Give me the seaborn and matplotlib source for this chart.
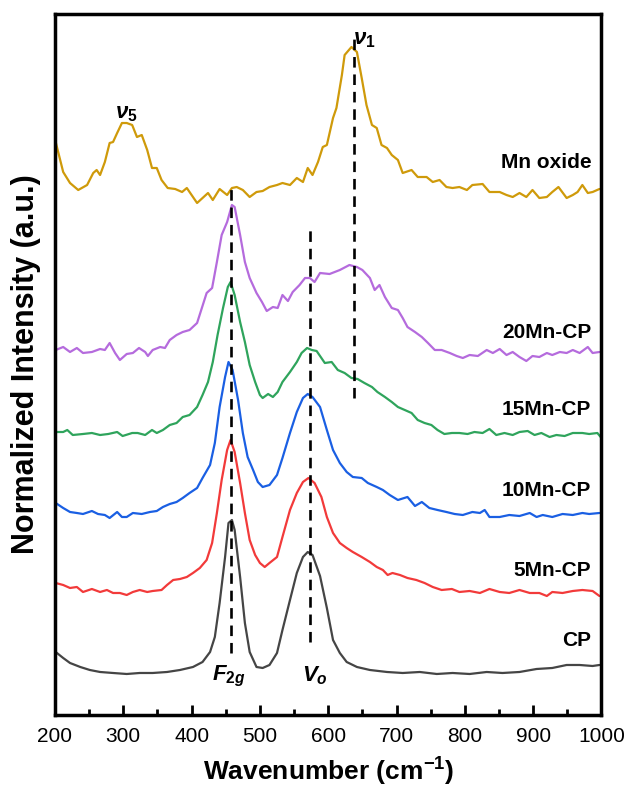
"""
Raman spectra (stacked) : CP, xMn-CP and Mn oxide, with F2g / Vo / nu1 / nu5 marks.
Values are read off the reference figure (normalized + offset intensities).
"""
import numpy as np
import pandas as pd
import matplotlib
matplotlib.use("Agg")
import matplotlib.pyplot as plt
import seaborn as sns

sns.set_theme(style="ticks")
plt.rcParams["font.family"] = ["Liberation Sans", "DejaVu Sans"]
plt.rcParams["mathtext.fontset"] = "custom"
plt.rcParams["mathtext.it"] = "Liberation Sans:italic:bold"
plt.rcParams["mathtext.bf"] = "Liberation Sans:bold"
plt.rcParams["mathtext.rm"] = "Liberation Sans:bold"
for k in ["text.color", "axes.labelcolor", "xtick.color", "ytick.color", "axes.edgecolor"]:
    plt.rcParams[k] = "black"

# ---------- data (wavenumber cm-1 / stacked normalized intensity) ----------
SAMPLES = ["Mn oxide", "20Mn-CP", "15Mn-CP", "10Mn-CP", "5Mn-CP", "CP"]
COLORS = ["#CF9A0A", "#B56BDD", "#2FA45C", "#1A5FE3", "#F23A3A", "#454545"]

wn_mnox = [201, 212, 222, 234, 247, 256, 261, 266, 273, 280, 285, 291, 298, 305, 313, 320,
           327, 335, 342, 349, 356, 365, 376, 386, 393, 400, 408, 416, 424, 431, 441, 452,
           459, 466, 475, 485, 495, 504, 514, 525, 533, 544, 554, 563, 570, 577, 585, 592,
           598, 607, 612, 620, 624, 634, 642, 649, 656, 664, 671, 678, 686, 693, 702, 709,
           722, 731, 744, 753, 763, 773, 782, 792, 803, 811, 826, 836, 851, 861, 870, 880,
           890, 899, 909, 920, 928, 937, 949, 958, 965, 972, 980, 987, 997]
i_mnox = [5.73, 5.43, 5.32, 5.25, 5.30, 5.42, 5.45, 5.40, 5.53, 5.72, 5.73, 5.82, 5.92, 5.92,
          5.90, 5.78, 5.80, 5.65, 5.47, 5.47, 5.35, 5.27, 5.26, 5.23, 5.27, 5.20, 5.12, 5.17,
          5.22, 5.15, 5.26, 5.20, 5.27, 5.28, 5.25, 5.18, 5.23, 5.24, 5.28, 5.30, 5.32, 5.30,
          5.37, 5.33, 5.47, 5.40, 5.53, 5.68, 5.70, 5.97, 6.07, 6.40, 6.60, 6.68, 6.63, 6.37,
          6.10, 5.90, 5.87, 5.70, 5.67, 5.60, 5.55, 5.42, 5.45, 5.38, 5.38, 5.33, 5.35, 5.28,
          5.27, 5.28, 5.25, 5.30, 5.31, 5.23, 5.23, 5.20, 5.18, 5.22, 5.18, 5.25, 5.17, 5.18,
          5.23, 5.28, 5.17, 5.20, 5.23, 5.30, 5.22, 5.23, 5.26]

wn_20mn = [201, 212, 222, 232, 241, 254, 266, 273, 280, 288, 295, 305, 314, 323, 332, 336,
           343, 354, 361, 368, 378, 387, 397, 408, 415, 422, 430, 437, 444, 452, 459, 463,
           471, 478, 485, 495, 503, 510, 519, 526, 533, 541, 548, 558, 566, 573, 580, 588,
           602, 617, 631, 642, 650, 661, 668, 675, 683, 693, 702, 709, 716, 727, 737, 746,
           756, 766, 778, 788, 797, 807, 819, 832, 841, 851, 861, 870, 880, 890, 899, 909,
           920, 928, 939, 949, 958, 968, 980, 987, 997]
i_20mn = [3.65, 3.68, 3.63, 3.67, 3.62, 3.63, 3.66, 3.65, 3.72, 3.62, 3.55, 3.61, 3.62, 3.67,
          3.63, 3.59, 3.65, 3.68, 3.67, 3.75, 3.80, 3.83, 3.85, 3.92, 4.07, 4.22, 4.27, 4.53,
          4.80, 4.93, 5.10, 5.08, 4.80, 4.53, 4.37, 4.22, 4.13, 4.04, 4.08, 4.07, 4.20, 4.14,
          4.23, 4.30, 4.37, 4.37, 4.33, 4.42, 4.41, 4.45, 4.50, 4.48, 4.45, 4.37, 4.25, 4.30,
          4.18, 4.07, 4.05, 3.97, 3.88, 3.83, 3.78, 3.72, 3.65, 3.65, 3.62, 3.59, 3.57, 3.60,
          3.59, 3.65, 3.62, 3.66, 3.60, 3.63, 3.58, 3.54, 3.59, 3.58, 3.62, 3.60, 3.63, 3.62,
          3.65, 3.62, 3.68, 3.62, 3.63]

wn_15mn = [201, 212, 218, 226, 241, 254, 266, 278, 291, 299, 313, 321, 332, 342, 349, 358,
           368, 378, 387, 397, 408, 416, 424, 431, 438, 446, 453, 457, 463, 471, 478, 485,
           493, 500, 504, 512, 519, 526, 533, 544, 554, 561, 569, 576, 583, 590, 595, 605,
           614, 624, 634, 643, 653, 664, 672, 683, 693, 702, 712, 722, 731, 741, 751, 760,
           770, 781, 792, 804, 814, 826, 836, 846, 858, 870, 880, 892, 902, 912, 924, 934,
           946, 958, 972, 982, 994, 1000]
i_15mn = [2.83, 2.83, 2.85, 2.80, 2.81, 2.82, 2.80, 2.81, 2.83, 2.79, 2.82, 2.82, 2.80, 2.85,
          2.82, 2.85, 2.90, 2.92, 2.98, 3.00, 3.08, 3.20, 3.33, 3.53, 3.80, 4.07, 4.28, 4.33,
          4.20, 3.93, 3.73, 3.50, 3.33, 3.20, 3.17, 3.21, 3.18, 3.23, 3.33, 3.43, 3.53, 3.62,
          3.67, 3.65, 3.64, 3.57, 3.52, 3.53, 3.45, 3.42, 3.37, 3.36, 3.32, 3.28, 3.23, 3.18,
          3.13, 3.08, 3.05, 3.02, 2.95, 2.92, 2.90, 2.85, 2.81, 2.82, 2.82, 2.81, 2.83, 2.82,
          2.86, 2.80, 2.82, 2.80, 2.83, 2.84, 2.80, 2.82, 2.78, 2.80, 2.79, 2.82, 2.82, 2.81,
          2.82, 2.77]

wn_10mn = [201, 212, 222, 232, 241, 254, 263, 273, 280, 291, 298, 305, 314, 327, 339, 349,
           358, 368, 378, 387, 397, 408, 416, 427, 434, 441, 449, 454, 460, 468, 475, 482,
           490, 497, 504, 514, 525, 533, 544, 554, 563, 570, 577, 588, 598, 607, 617, 627,
           636, 649, 658, 671, 680, 690, 702, 716, 727, 737, 748, 760, 773, 785, 797, 811,
           822, 829, 836, 851, 865, 880, 895, 905, 914, 928, 943, 958, 972, 982, 997]
i_10mn = [2.12, 2.07, 2.03, 2.02, 2.01, 2.04, 2.01, 2.00, 1.97, 2.03, 1.98, 1.98, 2.02, 2.01,
          2.03, 2.04, 2.08, 2.11, 2.13, 2.17, 2.22, 2.27, 2.37, 2.50, 2.72, 3.08, 3.38, 3.53,
          3.45, 3.15, 2.82, 2.58, 2.45, 2.33, 2.28, 2.30, 2.40, 2.57, 2.82, 3.03, 3.17, 3.21,
          3.18, 3.08, 2.85, 2.65, 2.52, 2.43, 2.38, 2.37, 2.32, 2.28, 2.25, 2.20, 2.15, 2.18,
          2.09, 2.13, 2.07, 2.05, 2.03, 2.01, 2.00, 2.03, 2.02, 2.05, 1.98, 1.98, 2.00, 1.99,
          2.02, 1.98, 2.00, 1.98, 2.01, 2.00, 2.02, 2.01, 2.02]

wn_5mn = [201, 212, 222, 232, 241, 254, 266, 276, 285, 295, 305, 314, 324, 335, 343, 356,
          364, 373, 383, 393, 402, 412, 422, 430, 437, 444, 452, 457, 463, 471, 478, 485,
          493, 500, 507, 514, 525, 533, 544, 554, 563, 571, 580, 590, 598, 607, 617, 627,
          636, 649, 661, 671, 680, 687, 694, 705, 716, 729, 741, 753, 766, 781, 792, 807,
          822, 836, 851, 865, 880, 895, 909, 920, 928, 943, 958, 972, 987, 997]
i_5mn = [1.32, 1.30, 1.27, 1.28, 1.23, 1.26, 1.23, 1.25, 1.22, 1.22, 1.20, 1.23, 1.25, 1.23,
         1.24, 1.25, 1.30, 1.35, 1.36, 1.38, 1.42, 1.47, 1.55, 1.72, 2.02, 2.35, 2.65, 2.75,
         2.63, 2.32, 2.02, 1.75, 1.60, 1.52, 1.48, 1.52, 1.58, 1.78, 2.05, 2.22, 2.33, 2.37,
         2.32, 2.18, 1.98, 1.82, 1.72, 1.67, 1.63, 1.58, 1.53, 1.48, 1.45, 1.40, 1.42, 1.40,
         1.37, 1.35, 1.32, 1.28, 1.25, 1.26, 1.23, 1.24, 1.22, 1.26, 1.23, 1.22, 1.25, 1.22,
         1.22, 1.19, 1.23, 1.22, 1.24, 1.25, 1.24, 1.19]

wn_cp = [201, 212, 222, 237, 251, 266, 285, 305, 324, 343, 364, 383, 402, 416, 427, 434,
         441, 449, 454, 459, 463, 471, 478, 485, 495, 504, 514, 525, 533, 544, 554, 563,
         570, 577, 588, 598, 607, 617, 627, 642, 661, 686, 709, 734, 759, 782, 807, 832,
         855, 880, 905, 928, 949, 968, 987, 997]
i_cp = [0.63, 0.57, 0.52, 0.48, 0.45, 0.43, 0.42, 0.41, 0.42, 0.42, 0.43, 0.45, 0.48, 0.53,
        0.63, 0.78, 1.12, 1.58, 1.92, 1.95, 1.85, 1.38, 0.92, 0.63, 0.48, 0.47, 0.50, 0.62,
        0.85, 1.15, 1.42, 1.58, 1.63, 1.60, 1.39, 1.07, 0.75, 0.62, 0.53, 0.48, 0.45, 0.43,
        0.42, 0.43, 0.41, 0.42, 0.41, 0.43, 0.42, 0.43, 0.46, 0.47, 0.50, 0.50, 0.49, 0.50]

# sample label heights (right side)
LABEL_Y = [5.53, 3.82, 3.05, 2.24, 1.44, 0.74]

# dashed guide lines: position, bottom, top
GUIDE_X = [458, 573, 637]
GUIDE_LO = [0.62, 0.73, 3.17]
GUIDE_HI = [5.32, 4.90, 6.78]

# band annotations
BAND_TXT = [r"$F_{2g}$", r"$V_o$", r"$\nu_5$", r"$\nu_1$"]
BAND_X = [454, 580, 305, 653]
BAND_Y = [0.39, 0.39, 6.02, 6.76]

spectra = [(wn_mnox, i_mnox), (wn_20mn, i_20mn), (wn_15mn, i_15mn),
           (wn_10mn, i_10mn), (wn_5mn, i_5mn), (wn_cp, i_cp)]
df = pd.concat([pd.DataFrame({"wavenumber": w, "intensity": v, "sample": s})
                for s, (w, v) in zip(SAMPLES, spectra)], ignore_index=True)

fig = plt.figure(figsize=(6.27, 7.87), dpi=100)
ax = fig.add_axes([0.0877, 0.0915, 0.8716, 0.8907])

sns.lineplot(data=df, x="wavenumber", y="intensity", hue="sample", hue_order=SAMPLES,
             palette=COLORS, estimator=None, sort=False, linewidth=1.6, legend=False, ax=ax)

for gx, lo, hi in zip(GUIDE_X, GUIDE_LO, GUIDE_HI):
    ax.plot([gx, gx], [lo, hi], color="black", linewidth=1.9, linestyle=(0, (4, 2.6)), zorder=3)

for s, y in zip(SAMPLES, LABEL_Y):
    ax.text(985, y, s, ha="right", va="center", fontsize=15, fontweight="bold")

for t, x, y in zip(BAND_TXT, BAND_X, BAND_Y):
    ax.text(x, y, t, ha="center", va="center", fontsize=16)

ax.set_xlim(200, 1000)
ax.set_ylim(0, 7.01)
ax.set_xticks(np.arange(200, 1001, 100))
ax.set_xticks(np.arange(250, 1000, 100), minor=True)
ax.set_yticks([])
ax.tick_params(axis="x", which="major", direction="in", length=7, width=2, labelsize=15, pad=9)
ax.tick_params(axis="x", which="minor", direction="in", length=4, width=2)
for sp in ax.spines.values():
    sp.set_linewidth(2.5)
    sp.set_color("black")
ax.set_xlabel(r"Wavenumber (cm$^{\mathbf{-1}}$)", fontsize=19, fontweight="bold", labelpad=7)
ax.set_ylabel("Normalized Intensity (a.u.)", fontsize=22, fontweight="bold", labelpad=10)

fig.savefig("out.png", dpi=100)
